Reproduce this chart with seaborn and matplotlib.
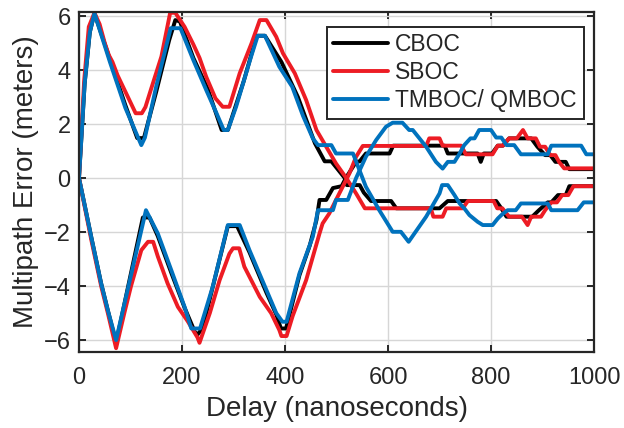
import numpy as np
import pandas as pd
import matplotlib
matplotlib.use('Agg')
import matplotlib.pyplot as plt
import seaborn as sns

# multipath error envelopes (delay in ns, error in meters)
cboc_up_x = [0, 11, 21, 30, 60, 90, 113, 126, 150, 175, 187, 196, 222, 250, 277, 289, 320, 345,
             361, 393, 425, 458, 477, 490, 516, 520, 545, 553, 567, 606, 616, 700, 716, 810,
             820, 830, 880, 893, 910, 917, 930, 945, 952, 1000]
cboc_up_y = [0, 3.5, 5.4, 6.1, 4.4, 2.7, 1.48, 1.48, 3.2, 5.1, 5.85, 5.8, 4.45, 3.3, 1.78, 1.78,
             3.6, 5.27, 5.27, 4.3, 3.0, 1.29, 0.62, 0.62, 0, -0.26, -0.26, -0.54, -0.85, -0.85,
             -1.12, -1.12, -0.85, -0.85, -1.12, -1.43, -1.43, -1.19, -0.9, -0.9, -0.63, -0.63,
             -0.3, -0.3]
cboc_lo_x = [0, 11, 24, 43, 56, 72, 124, 137, 153, 179, 205, 225, 230, 240, 289, 307, 331, 364,
             383, 392, 402, 428, 448, 461, 467, 480, 493, 510, 518, 538, 545, 557, 603, 610,
             710, 716, 774, 780, 786, 802, 813, 823, 835, 878, 890, 905, 915, 925, 945, 952,
             1000]
cboc_lo_y = [0, -1.0, -2.2, -3.9, -4.9, -6.1, -1.46, -1.46, -2.15, -3.5, -4.8, -5.7, -5.8, -5.55,
             -1.78, -1.78, -2.75, -4.25, -5.05, -5.57, -5.57, -3.6, -2.5, -1.56, -0.81, -0.81,
             -0.37, -0.3, 0, 0.6, 0.62, 0.91, 0.91, 1.2, 1.2, 0.91, 0.91, 0.6, 0.91, 0.91, 1.2,
             1.2, 1.47, 1.47, 1.16, 0.85, 0.85, 0.6, 0.6, 0.33, 0.33]

sboc_up_x = [0, 10, 19, 30, 40, 50, 58, 65, 75, 90, 100, 110, 122, 129, 140, 160, 177, 187, 205,
             222, 234, 247, 265, 279, 292, 312, 335, 351, 364, 383, 396, 419, 441, 461, 480,
             499, 519, 538, 555, 683, 688, 706, 713, 745, 755, 805, 812, 822, 835, 860, 871,
             878, 897, 905, 917, 928, 938, 950, 960, 1000]
sboc_up_y = [0, 3.6, 5.6, 6.12, 5.7, 5.0, 4.55, 4.3, 3.8, 3.2, 2.8, 2.4, 2.4, 2.63, 3.3, 4.5,
             6.12, 6.12, 5.6, 4.95, 4.45, 3.75, 2.95, 2.64, 2.64, 3.88, 4.99, 5.85, 5.85, 5.23,
             4.62, 3.88, 2.89, 1.78, 1.16, 0.54, 0, -0.57, -1.12, -1.12, -1.43, -1.43, -1.12,
             -1.12, -0.85, -0.85, -1.12, -1.12, -1.43, -1.43, -1.74, -1.43, -1.43, -1.19, -0.9,
             -0.9, -0.63, -0.63, -0.3, -0.3]
sboc_lo_x = [0, 11, 24, 43, 56, 72, 88, 101, 121, 134, 144, 153, 172, 192, 211, 230, 234, 254,
             273, 292, 299, 311, 321, 351, 373, 389, 393, 403, 415, 441, 467, 473, 486, 499,
             512, 525, 538, 551, 674, 680, 700, 706, 742, 751, 803, 813, 823, 835, 850, 862,
             871, 887, 895, 905, 915, 925, 932, 942, 1000]
sboc_lo_y = [0, -1.06, -2.3, -4.0, -5.0, -6.3, -5.0, -4.0, -2.67, -2.36, -2.36, -2.9, -3.9,
             -4.77, -5.3, -5.9, -6.1, -5.0, -3.78, -2.8, -2.6, -2.6, -3.28, -4.4, -5.0, -5.63,
             -5.85, -5.85, -5.1, -3.78, -2.05, -1.68, -1.31, -0.81, -0.32, 0.17, 0.79, 1.19,
             1.19, 1.47, 1.47, 1.2, 1.2, 0.88, 0.88, 1.2, 1.2, 1.47, 1.47, 1.78, 1.47, 1.47,
             1.16, 1.16, 0.85, 0.85, 0.6, 0.36, 0.36]

tmboc_up_x = [0, 11, 21, 30, 60, 90, 121, 128, 150, 178, 197, 222, 247, 267, 281, 289, 305,
              334, 347, 361, 389, 414, 435, 454, 464, 490, 499, 532, 557, 583, 609, 625, 640,
              674, 700, 705, 716, 729, 739, 748, 758, 774, 784, 803, 813, 820, 832, 848, 858,
              910, 917, 968, 980, 1000]
tmboc_up_y = [0, 3.5, 5.4, 6.1, 4.3, 2.6, 1.22, 1.5, 3.4, 5.55, 5.55, 4.37, 3.26, 2.4, 1.78,
              1.78, 2.64, 4.49, 5.27, 5.27, 4.12, 3.38, 2.3, 1.47, 1.22, 1.22, 0.91, 0.91,
              -0.32, -1.19, -1.99, -1.99, -2.36, -1.43, -0.57, -0.26, -0.26, -0.63, -0.94,
              -1.12, -1.37, -1.62, -1.74, -1.74, -1.5, -1.37, -1.19, -1.19, -0.94, -0.94,
              -1.19, -1.19, -0.9, -0.9]
tmboc_lo_x = [0, 11, 24, 43, 56, 72, 130, 153, 179, 205, 218, 235, 260, 289, 312, 331, 364,
              383, 395, 403, 428, 454, 464, 493, 499, 522, 538, 557, 577, 596, 609, 628, 641,
              648, 674, 693, 706, 716, 729, 739, 748, 760, 768, 777, 800, 810, 820, 830, 845,
              858, 910, 917, 975, 985, 1000]
tmboc_lo_y = [0, -1.0, -2.2, -3.9, -4.9, -6.0, -1.19, -2.05, -3.4, -4.77, -5.57, -5.57, -4.0,
              -1.74, -1.74, -2.67, -4.15, -5.0, -5.32, -5.32, -3.53, -2.17, -1.19, -1.19,
              -0.81, -0.81, 0, 0.79, 1.41, 1.9, 2.05, 2.05, 1.78, 1.78, 1.16, 0.6, 0.35, 0.6,
              0.6, 0.91, 1.22, 1.47, 1.47, 1.78, 1.78, 1.5, 1.5, 1.22, 1.22, 0.88, 0.88, 1.2,
              1.2, 0.88, 0.88]

series = [
    ('CBOC', '#000000', cboc_up_x, cboc_up_y, cboc_lo_x, cboc_lo_y),
    ('SBOC', '#ED1C24', sboc_up_x, sboc_up_y, sboc_lo_x, sboc_lo_y),
    ('TMBOC/ QMBOC', '#0072BD', tmboc_up_x, tmboc_up_y, tmboc_lo_x, tmboc_lo_y),
]

sns.set_theme(style='white')
plt.rcParams['font.family'] = ['Liberation Sans', 'DejaVu Sans']

fig = plt.figure(figsize=(6.24, 4.28), dpi=100)
ax = fig.add_axes([0.1266, 0.1776, 0.8254, 0.7944])

for name, col, ux, uy, lx, ly in series:
    sns.lineplot(x=ux, y=uy, ax=ax, color=col, lw=2.8, sort=False, estimator=None, label=name)
    sns.lineplot(x=lx, y=ly, ax=ax, color=col, lw=2.8, sort=False, estimator=None,
                 label='_nolegend_')

ax.set_xlim(0, 1000)
ax.set_ylim(-6.44, 6.15)
ax.set_xticks([0, 200, 400, 600, 800, 1000])
ax.set_yticks([-6, -4, -2, 0, 2, 4, 6])
ax.grid(True, color='#d6d6d6', lw=1.0)
ax.set_axisbelow(True)
for s in ax.spines.values():
    s.set_color('#262626')
    s.set_linewidth(1.6)
ax.tick_params(direction='in', length=5, width=1.4, color='#262626',
               bottom=True, left=True, top=True, right=True,
               labelsize=17, labelcolor='#262626', pad=6)
ax.tick_params(axis='x', pad=11)
ax.set_xlabel('Delay (nanoseconds)', fontsize=20, color='#262626', labelpad=5)
ax.set_ylabel('Multipath Error (meters)', fontsize=20, color='#262626', labelpad=3)

leg = ax.legend(loc='upper right', bbox_to_anchor=(0.98, 0.957), fontsize=16.5, frameon=True,
                fancybox=False, edgecolor='#262626', framealpha=1, handlelength=2.4,
                handletextpad=0.3, labelspacing=0.2, borderpad=0.3, borderaxespad=0)
leg.get_frame().set_linewidth(1.4)
for t in leg.get_texts():
    t.set_color('#262626')

fig.savefig('out.png', dpi=100)
